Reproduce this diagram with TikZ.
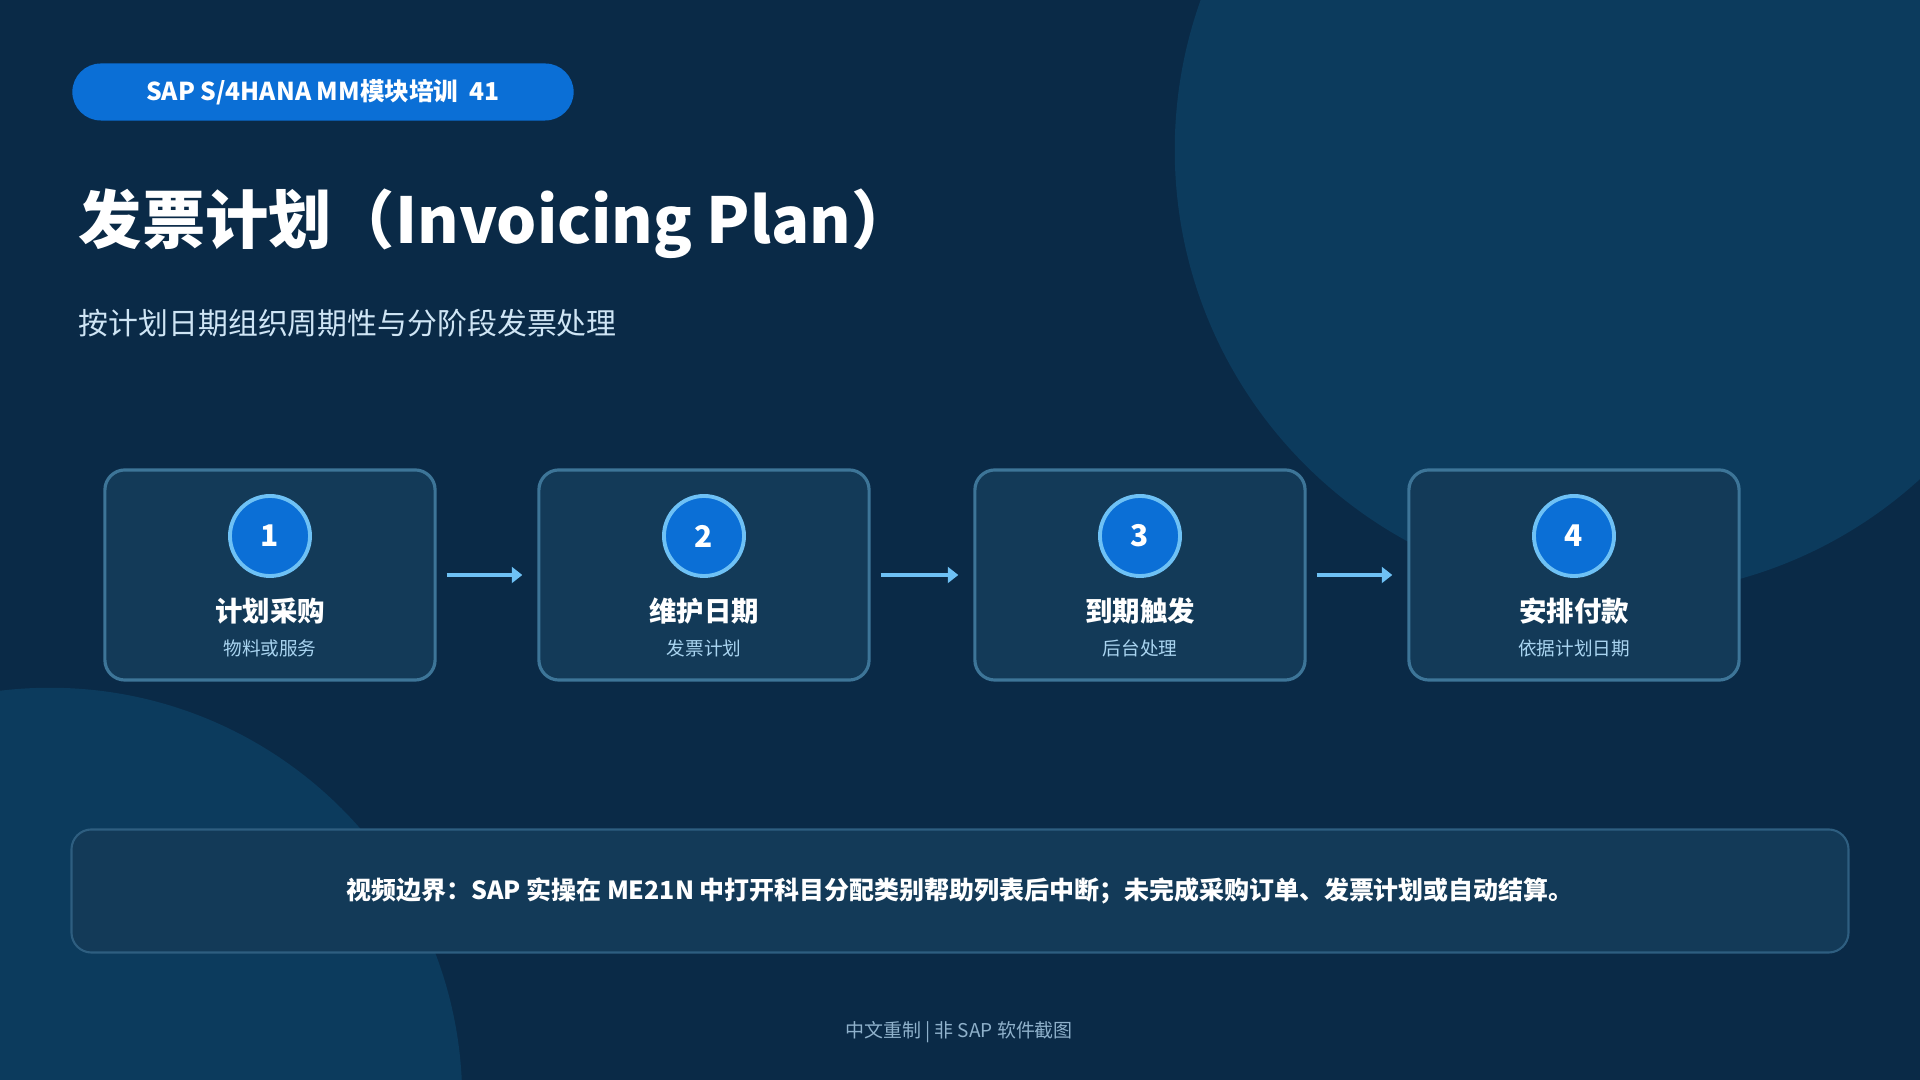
\documentclass[tikz,border=0pt]{standalone}
\usepackage{fontspec}
\setmainfont{Noto Sans CJK SC}
\usetikzlibrary{arrows.meta,positioning}

\definecolor{bgnavy}{HTML}{0A2A47}
\definecolor{bgdisc}{HTML}{0C3B5D}
\definecolor{boxfill}{HTML}{133A58}
\definecolor{boxline}{HTML}{3D7598}
\definecolor{noteline}{HTML}{2E5E80}
\definecolor{sapblue}{HTML}{0B6FD6}
\definecolor{skyline}{HTML}{6EC1F5}
\definecolor{subtext}{HTML}{CFE5F5}
\definecolor{steptext}{HTML}{A9D4F0}
\definecolor{foottext}{HTML}{8FB1CB}

\begin{document}
\begin{tikzpicture}[x=0.01cm,y=-0.01cm,
    stepbox/.style={draw=boxline,line width=0.9pt,fill=boxfill,rounded corners=0.2cm,
        minimum width=3.3cm,minimum height=2.1cm},
    numdot/.style={circle,draw=skyline,line width=1.1pt,fill=sapblue,text=white,
        minimum size=0.8cm,inner sep=0pt,font=\fontsize{8.5pt}{10pt}\selectfont\bfseries},
    steptitle/.style={text=white,inner sep=0pt,font=\fontsize{7.8pt}{9pt}\selectfont\bfseries},
    stepsub/.style={text=steptext,inner sep=0pt,font=\fontsize{5.3pt}{6pt}\selectfont},
    flow/.style={draw=skyline,line width=1.4pt,shorten <=0.1cm,shorten >=0.15cm,
        -{Triangle[length=3pt,width=4.5pt]}}]
    % Background and discs
    \fill[bgnavy] (0,0) rectangle (1920,1080);
    \begin{scope}
        \clip (0,0) rectangle (1920,1080);
        \fill[bgdisc] (1620,150) circle (4.45cm);
        \fill[bgdisc] (50,1100) circle (4.12cm);
    \end{scope}
    % Header
    \node[fill=sapblue,rounded corners=0.285cm,minimum width=5.01cm,minimum height=0.57cm,
        text=white,font=\fontsize{7pt}{8pt}\selectfont\bfseries] (tag) at (323,92)
        {SAP S/4HANA MM模块培训\ \ 41};
    \node[anchor=west,inner sep=0pt,text=white,font=\fontsize{18pt}{22pt}\selectfont\bfseries]
        (title) at (78,224) {发票计划（Invoicing Plan）};
    \node[anchor=west,inner sep=0pt,text=subtext,font=\fontsize{8.5pt}{10pt}\selectfont]
        (subtitle) at (78,323) {按计划日期组织周期性与分阶段发票处理};
    % Steps
    \node[stepbox] (b1) at (270,575) {};
    \node[stepbox] (b2) at (704,575) {};
    \node[stepbox] (b3) at (1140,575) {};
    \node[stepbox] (b4) at (1574,575) {};
    \node[numdot] (n1) at (270,536) {1};
    \node[numdot] (n2) at (704,536) {2};
    \node[numdot] (n3) at (1140,536) {3};
    \node[numdot] (n4) at (1574,536) {4};
    \node[steptitle] (t1) at (270,611) {计划采购};
    \node[steptitle] (t2) at (704,611) {维护日期};
    \node[steptitle] (t3) at (1140,611) {到期触发};
    \node[steptitle] (t4) at (1574,611) {安排付款};
    \node[stepsub] (s1) at (270,648) {物料或服务};
    \node[stepsub] (s2) at (704,648) {发票计划};
    \node[stepsub] (s3) at (1140,648) {后台处理};
    \node[stepsub] (s4) at (1574,648) {依据计划日期};
    \draw[flow] (b1) -- (b2);
    \draw[flow] (b2) -- (b3);
    \draw[flow] (b3) -- (b4);
    % Note and footer
    \node[draw=noteline,line width=0.6pt,fill=boxfill,rounded corners=0.2cm,
        minimum width=17.76cm,minimum height=1.23cm,text=white,
        font=\fontsize{7.1pt}{9pt}\selectfont\bfseries] (note) at (960,891)
        {视频边界：SAP 实操在 ME21N 中打开科目分配类别帮助列表后中断；未完成采购订单、发票计划或自动结算。};
    \node[text=foottext,inner sep=0pt,font=\fontsize{5.4pt}{6pt}\selectfont] (footer) at (959,1032)
        {中文重制 | 非 SAP 软件截图};
\end{tikzpicture}
\end{document}
